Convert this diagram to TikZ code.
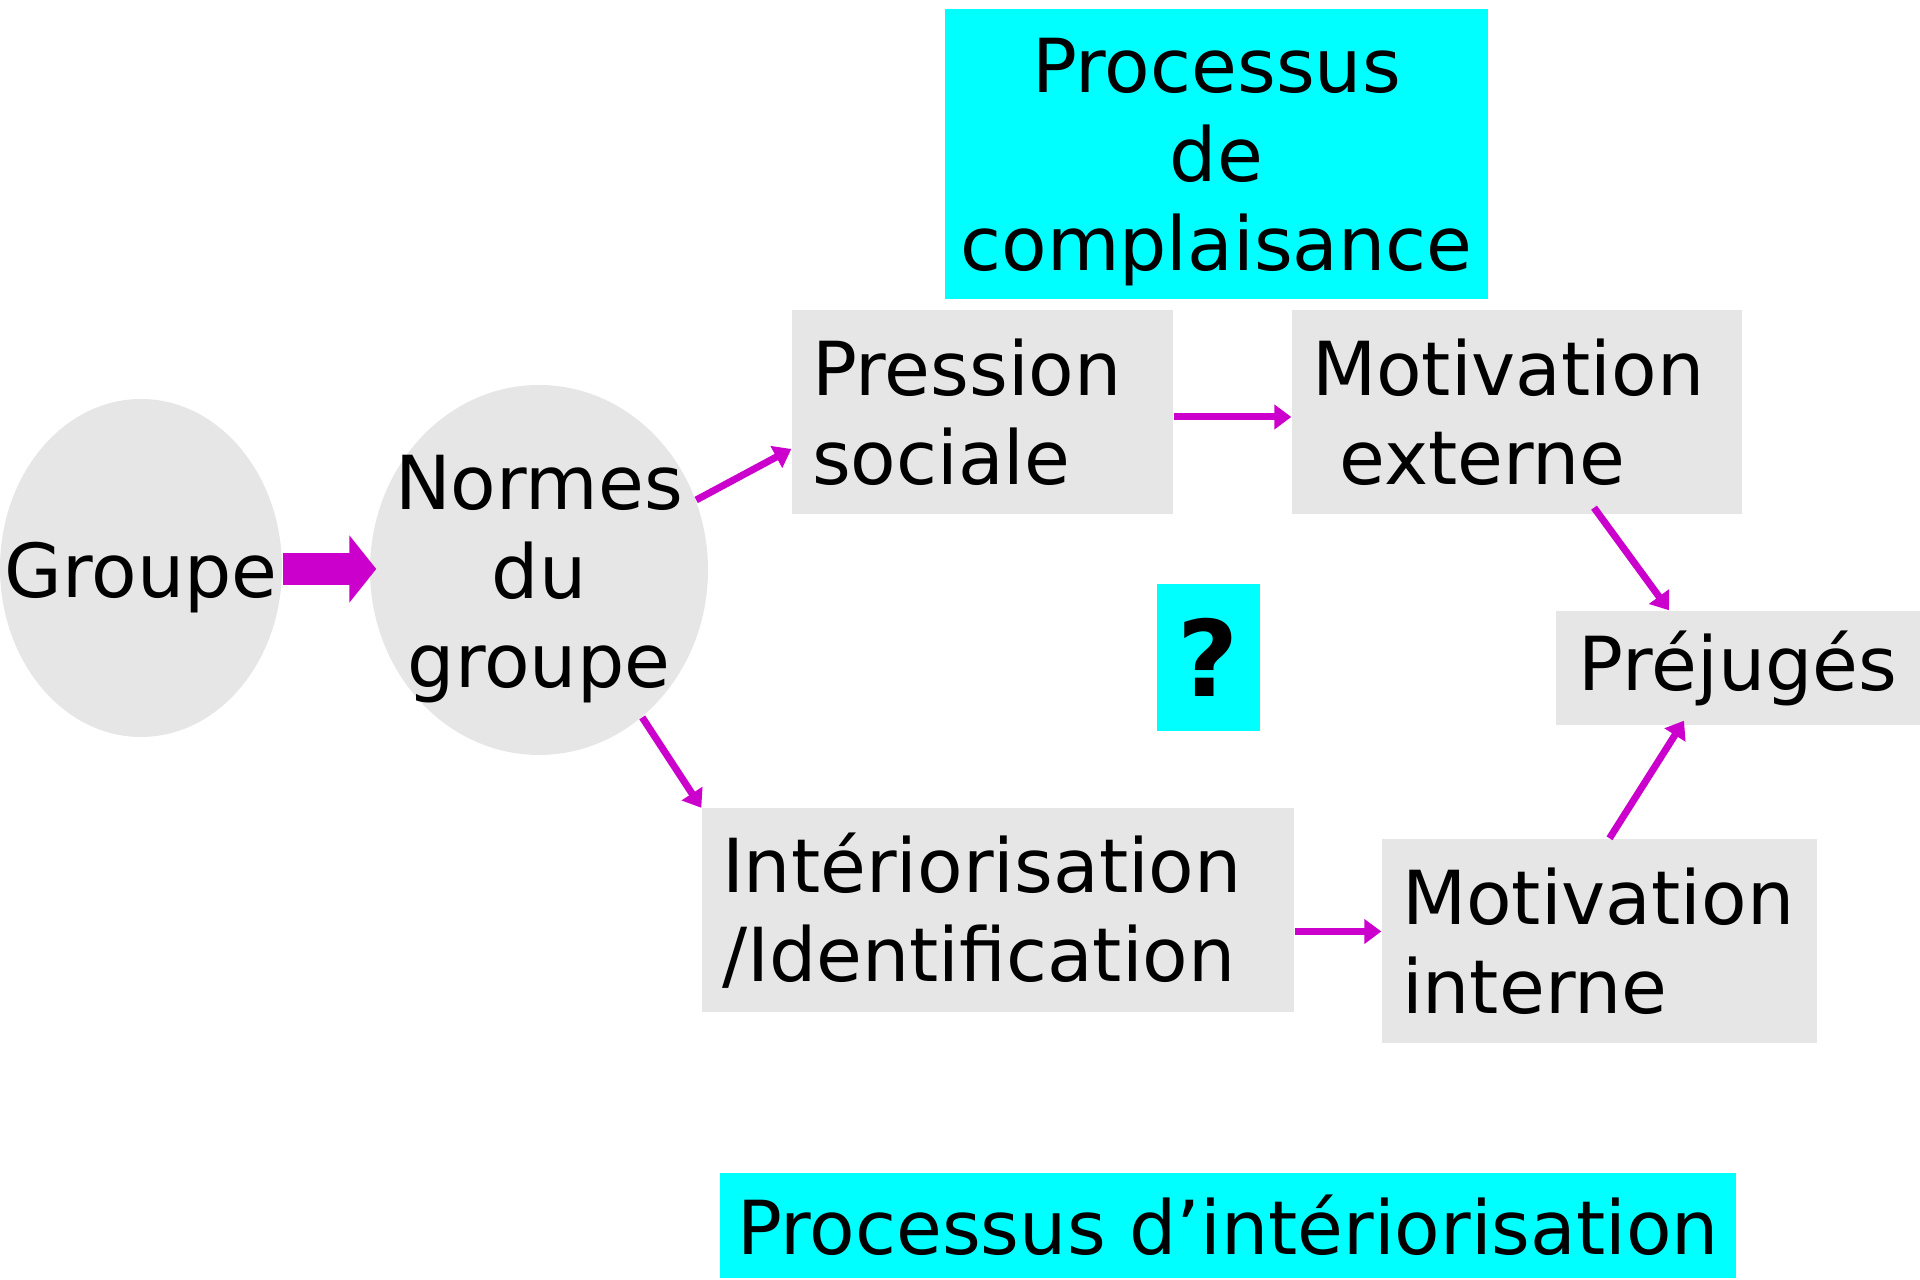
\documentclass[tikz,border=0pt]{standalone}
\usepackage{fontspec}
\setmainfont{DejaVu Sans}
\usetikzlibrary{arrows.meta,shapes.geometric}
\definecolor{pgray}{RGB}{230,230,230}
\definecolor{pcyan}{RGB}{0,255,255}
\definecolor{pmagenta}{RGB}{204,0,204}

\begin{document}
\begin{tikzpicture}[
  every node/.style={font=\fontsize{21.2}{25.4}\selectfont},
  greybox/.style={fill=pgray,inner sep=0pt,minimum height=2.04cm,
                  align=left,anchor=center},
  blob/.style={ellipse,fill=pgray,inner sep=0pt},
  tag/.style={fill=pcyan,inner sep=0pt,align=center},
  arr/.style={draw=pmagenta,line width=2pt,
              -{Triangle[length=0.17cm,width=0.24cm]}},
  >=Triangle
]
  \useasboundingbox (0,0) rectangle (19.2,12.8);

  % ellipses on the left
  \node[blob,minimum width=2.82cm,minimum height=3.38cm] (groupe) at (1.41,7.12) {};
  \node at ([yshift=-0.1cm]groupe) {Groupe};
  \node[blob,minimum width=3.38cm,minimum height=3.70cm] (normes) at (5.39,7.10) {};
  \node[align=center] at ([yshift=-0.09cm]normes) {Normes\\du\\groupe};

  % grey boxes
  \node[greybox,minimum width=3.81cm,text width=3.41cm] (pression) at (9.825,8.68)
    {Pression\\sociale};
  \node[greybox,minimum width=4.50cm,text width=4.10cm] (motext) at (15.17,8.68)
    {Motivation\\\hspace{0.37em}externe};
  \node[greybox,minimum width=5.92cm,text width=5.52cm] (interieur) at (9.98,3.695)
    {Intériorisation\\/Identification};
  \node[greybox,minimum width=4.35cm,text width=3.95cm] (motint) at (15.995,3.39)
    {Motivation\\interne};
  \node[fill=pgray,inner sep=0pt,minimum width=3.64cm,minimum height=1.14cm]
    (prejuges) at (17.38,6.12) {Préjugés};

  % cyan labels
  \node[tag,minimum width=5.43cm,minimum height=2.90cm] (complaisance) at (12.165,11.26) {};
  \node[align=center] at ([yshift=-0.08cm]complaisance) {Processus\\de\\complaisance};
  \node[tag,minimum width=1.03cm,minimum height=1.47cm,
        font=\fontsize{30}{36}\selectfont\bfseries] (question) at (12.085,6.225) {?};
  \node[tag,minimum width=10.16cm,minimum height=1.05cm] (interiorisation) at (12.28,0.545)
    {Processus d’intériorisation};

  % arrows
  \draw[draw=pmagenta,line width=0.32cm,
        -{Triangle[length=0.27cm,width=0.66cm]}]
    ([yshift=-0.01cm]groupe.east) -- ([xshift=0.07cm,yshift=-0.01cm]groupe.east -| normes.west);
  \draw[arr] (normes.24) -- ([yshift=-0.37cm]pression.west);
  \draw[arr] ([yshift=-0.05cm]pression.east) -- ([yshift=-0.05cm]motext.west);
  \draw[arr] (normes.-55) -- (interieur.north west);
  \draw[arr] ([yshift=-0.21cm]interieur.east) -- ([yshift=-0.21cm]interieur.east -| motint.west);
  \draw[arr] ([xshift=0.77cm,yshift=0.07cm]motext.south) -- ([xshift=-0.69cm]prejuges.north);
  \draw[arr] ([xshift=0.1cm]motint.north) -- ([xshift=-0.54cm,yshift=0.05cm]prejuges.south);
\end{tikzpicture}
\end{document}
